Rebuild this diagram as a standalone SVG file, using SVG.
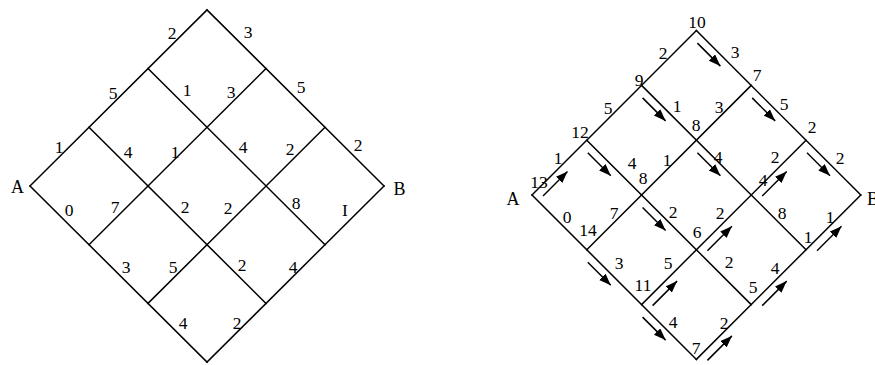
<svg xmlns="http://www.w3.org/2000/svg" width="875" height="365" viewBox="0 0 875 365">
<style>
.g{stroke:#000;stroke-width:1.5;fill:none;stroke-linecap:square}
.a{stroke:#000;stroke-width:1.5;fill:none;marker-end:url(#ah)}
text{font-family:"Liberation Serif","Times New Roman",serif;font-size:17.5px;fill:#000;text-anchor:middle}
.lt{font-size:18px}
</style>
<defs>
<marker id="ah" markerUnits="userSpaceOnUse" markerWidth="13" markerHeight="10" refX="12" refY="4.5" orient="auto">
<path d="M0,0 L12,4.5 L0,9 z" fill="#000"/>
</marker>
</defs>
<rect width="875" height="365" fill="#fff"/>
<g id="connectors">
<g id="left-grid" class="g">
<line x1="30" y1="186" x2="207" y2="362.1"/>
<line x1="89" y1="127.3" x2="266" y2="303.4"/>
<line x1="148" y1="68.6" x2="325" y2="244.7"/>
<line x1="207" y1="9.9" x2="384" y2="186"/>
<line x1="30" y1="186" x2="207" y2="9.9"/>
<line x1="89" y1="244.7" x2="266" y2="68.6"/>
<line x1="148" y1="303.4" x2="325" y2="127.3"/>
<line x1="207" y1="362.1" x2="384" y2="186"/>
</g>
<g id="right-grid" class="g">
<line x1="532" y1="195" x2="696.4" y2="359.4"/>
<line x1="586.8" y1="140.2" x2="751.2" y2="304.6"/>
<line x1="641.6" y1="85.4" x2="806" y2="249.8"/>
<line x1="696.4" y1="30.6" x2="860.8" y2="195"/>
<line x1="532" y1="195" x2="696.4" y2="30.6"/>
<line x1="586.8" y1="249.8" x2="751.2" y2="85.4"/>
<line x1="641.6" y1="304.6" x2="806" y2="140.2"/>
<line x1="696.4" y1="359.4" x2="860.8" y2="195"/>
</g>
<g id="right-arrows">
<line class="a" x1="697.4" y1="43.1" x2="720.4" y2="66.1"/>
<line class="a" x1="642.6" y1="97.9" x2="665.6" y2="120.9"/>
<line class="a" x1="752.2" y1="97.9" x2="775.2" y2="120.9"/>
<line class="a" x1="587.8" y1="152.7" x2="610.8" y2="175.7"/>
<line class="a" x1="697.4" y1="152.7" x2="720.4" y2="175.7"/>
<line class="a" x1="807" y1="152.7" x2="830" y2="175.7"/>
<line class="a" x1="642.6" y1="207.5" x2="665.6" y2="230.5"/>
<line class="a" x1="587.8" y1="262.3" x2="610.8" y2="285.3"/>
<line class="a" x1="642.6" y1="317.1" x2="665.6" y2="340.1"/>
<line class="a" x1="543" y1="196" x2="567.5" y2="171.5"/>
<line class="a" x1="762.2" y1="196" x2="786.7" y2="171.5"/>
<line class="a" x1="707.4" y1="250.8" x2="731.9" y2="226.3"/>
<line class="a" x1="817" y1="250.8" x2="841.5" y2="226.3"/>
<line class="a" x1="652.6" y1="305.6" x2="677.1" y2="281.1"/>
<line class="a" x1="762.2" y1="305.6" x2="786.7" y2="281.1"/>
<line class="a" x1="707.4" y1="360.4" x2="731.9" y2="335.9"/>
</g>
</g>
<g id="left-labels">
<text class="lt" x="17.5" y="193">A</text>
<text class="lt" x="399.5" y="195">B</text>
<text x="172" y="39">2</text>
<text x="248" y="38">3</text>
<text x="113" y="99">5</text>
<text x="187" y="96">1</text>
<text x="231" y="98">3</text>
<text x="301" y="93">5</text>
<text x="59" y="153">1</text>
<text x="128" y="158">4</text>
<text x="175" y="158">1</text>
<text x="243" y="153">4</text>
<text x="290" y="155">2</text>
<text x="358" y="151">2</text>
<text x="69" y="216">0</text>
<text x="115" y="213">7</text>
<text x="185" y="213">2</text>
<text x="228" y="214">2</text>
<text x="296" y="209">8</text>
<text x="345" y="216">I</text>
<text x="126" y="273">3</text>
<text x="173" y="273">5</text>
<text x="242" y="271">2</text>
<text x="293" y="273">4</text>
<text x="183" y="329">4</text>
<text x="237" y="329">2</text>
</g>
<g id="right-labels">
<text class="lt" x="513" y="205">A</text>
<text class="lt" x="867" y="205" style="text-anchor:start">B</text>
<text x="697" y="28">10</text>
<text x="663" y="59">2</text>
<text x="735" y="58">3</text>
<text x="639" y="86">9</text>
<text x="757" y="81">7</text>
<text x="608" y="114">5</text>
<text x="677" y="112">1</text>
<text x="719" y="113">3</text>
<text x="784" y="110">5</text>
<text x="696" y="131">8</text>
<text x="580" y="138">12</text>
<text x="812" y="133">2</text>
<text x="558" y="164">1</text>
<text x="632" y="169">4</text>
<text x="667" y="166">1</text>
<text x="718" y="163">4</text>
<text x="775" y="163">2</text>
<text x="840" y="164">2</text>
<text x="539" y="188">13</text>
<text x="643" y="184">8</text>
<text x="763" y="186">4</text>
<text x="567" y="223">0</text>
<text x="614" y="219">7</text>
<text x="673" y="218">2</text>
<text x="720" y="219">2</text>
<text x="782" y="219">8</text>
<text x="830" y="223">1</text>
<text x="588" y="236">14</text>
<text x="697" y="238">6</text>
<text x="808" y="243">1</text>
<text x="619" y="269">3</text>
<text x="668" y="269">5</text>
<text x="729" y="268">2</text>
<text x="775" y="274">4</text>
<text x="643" y="291">11</text>
<text x="753" y="293">5</text>
<text x="673" y="328">4</text>
<text x="724" y="329">2</text>
<text x="696" y="354">7</text>
</g>
</svg>
